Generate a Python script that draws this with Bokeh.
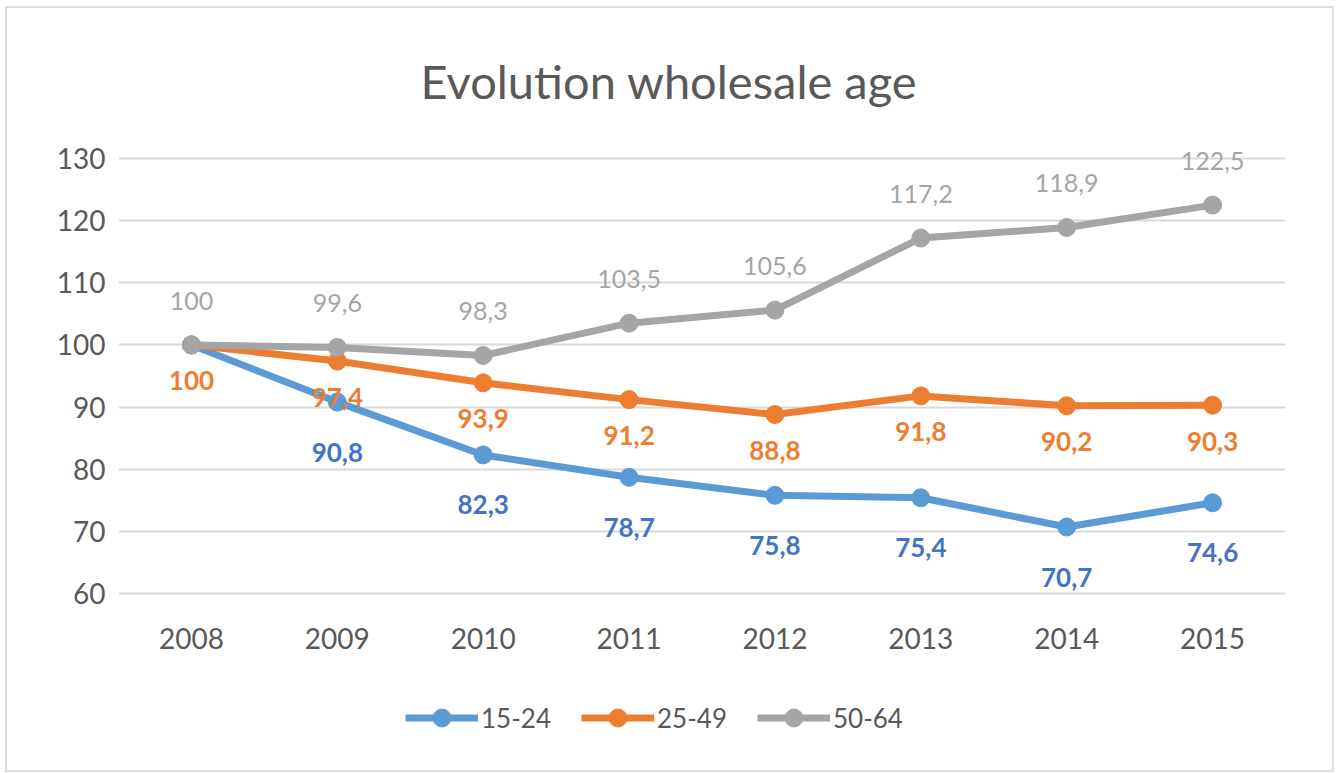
from bokeh.plotting import figure
from bokeh.models import (ColumnDataSource, LabelSet, Label, Legend, LegendItem,
                          FixedTicker, Range1d, FactorRange, InlineStyleSheet)
from bokeh.core.properties import value
from bokeh.embed import file_html
from bokeh.resources import INLINE

years = ["2008", "2009", "2010", "2011", "2012", "2013", "2014", "2015"]
s15_24 = [100, 90.8, 82.3, 78.7, 75.8, 75.4, 70.7, 74.6]
s25_49 = [100, 97.4, 93.9, 91.2, 88.8, 91.8, 90.2, 90.3]
s50_64 = [100, 99.6, 98.3, 103.5, 105.6, 117.2, 118.9, 122.5]
series_names = ["15-24", "25-49", "50-64"]
y_ticks = [60, 70, 80, 90, 100, 110, 120, 130]
title_text = "Evolution wholesale age"
# first 15-24 label is hidden in the original (it coincides with the others)
hidden_first = [True, False, False]

FONT = "Lato"
line_colors = ["#5B9BD5", "#ED7D31", "#A5A5A5"]
label_colors = ["#4472C4", "#ED7D31", "#A5A5A5"]
label_styles = ["bold", "bold", "normal"]
label_sizes = ["26px", "26px", "25px"]
label_offsets = [-50, -36, 44]

def fmt(v):
    return str(int(v)) if float(v).is_integer() else f"{v:.1f}".replace(".", ",")

W, H = 1336, 772
FL, FW = 118, 1167
PX_PER_UNIT = 435 / 70.0
Y_BOTTOM_PX = 593          # screen y of value 60
y_top = 60 + Y_BOTTOM_PX / PX_PER_UNIT
y_bot = 60 - (H - Y_BOTTOM_PX) / PX_PER_UNIT
CAT_PX = FW / len(years)

border_css = InlineStyleSheet(css=""":host { position: relative; }
:host::after { content: ''; position: absolute; left: 5px; top: 6px; right: 2px;
 bottom: 0px; border: 2px solid #dcdcdc; pointer-events: none; z-index: 10; }""")

p = figure(frame_width=FW, frame_height=H, x_range=FactorRange(factors=years),
           y_range=Range1d(y_bot, y_top), output_backend="svg", toolbar_location=None,
           min_border_left=FL, min_border_right=W - FL - FW, min_border_top=0,
           min_border_bottom=0, background_fill_color="white",
           border_fill_color="white", stylesheets=[border_css])
p.outline_line_color = None

p.xaxis.fixed_location = 60
p.yaxis.ticker = FixedTicker(ticks=y_ticks)
for ax in (p.xaxis, p.yaxis):
    ax.axis_line_color = None
    ax.major_tick_line_color = None
    ax.minor_tick_line_color = None
    ax.major_label_text_font = FONT
    ax.major_label_text_font_size = "28px"
    ax.major_label_text_color = "#595959"
p.yaxis.major_label_standoff = 7
p.xaxis.major_label_standoff = 28
p.xgrid.grid_line_color = None
p.ygrid.grid_line_color = "#D9D9D9"
p.ygrid.grid_line_width = 2

items = []
for name, vals, lc, tc, st, fs, off, hid in zip(series_names, [s15_24, s25_49, s50_64],
                                               line_colors, label_colors, label_styles,
                                               label_sizes, label_offsets, hidden_first):
    texts = [fmt(v) for v in vals]
    if hid:
        texts[0] = ""
    src = ColumnDataSource(dict(x=years, y=vals, t=texts))
    lr = p.line("x", "y", source=src, line_color=lc, line_width=7, line_join="round")
    sr = p.scatter("x", "y", source=src, size=18, fill_color=lc, line_color=lc)
    items.append(LegendItem(label=name, renderers=[lr, sr]))
    p.add_layout(LabelSet(x="x", y="y", text="t", source=src, y_offset=off,
                          text_align="center", text_baseline="middle",
                          text_font=value(FONT), text_font_size=fs,
                          text_font_style=st, text_color=tc))

legend = Legend(items=items, orientation="horizontal", location=(287, H - 740),
                glyph_width=73, glyph_height=45, label_height=45, label_text_font=FONT,
                label_text_font_size="26px", label_text_color="#595959",
                spacing=30, label_standoff=3, padding=0, margin=0,
                border_line_color=None, background_fill_alpha=0)
p.add_layout(legend, "center")

p.add_layout(Label(x=len(years) / 2 - 33 / CAT_PX, y=y_top - 80 / PX_PER_UNIT,
                   text=title_text, text_align="center", text_baseline="middle",
                   text_font=FONT, text_font_size="47px", text_color="#595959"))

open("out.html", "w").write(file_html(p, INLINE))
